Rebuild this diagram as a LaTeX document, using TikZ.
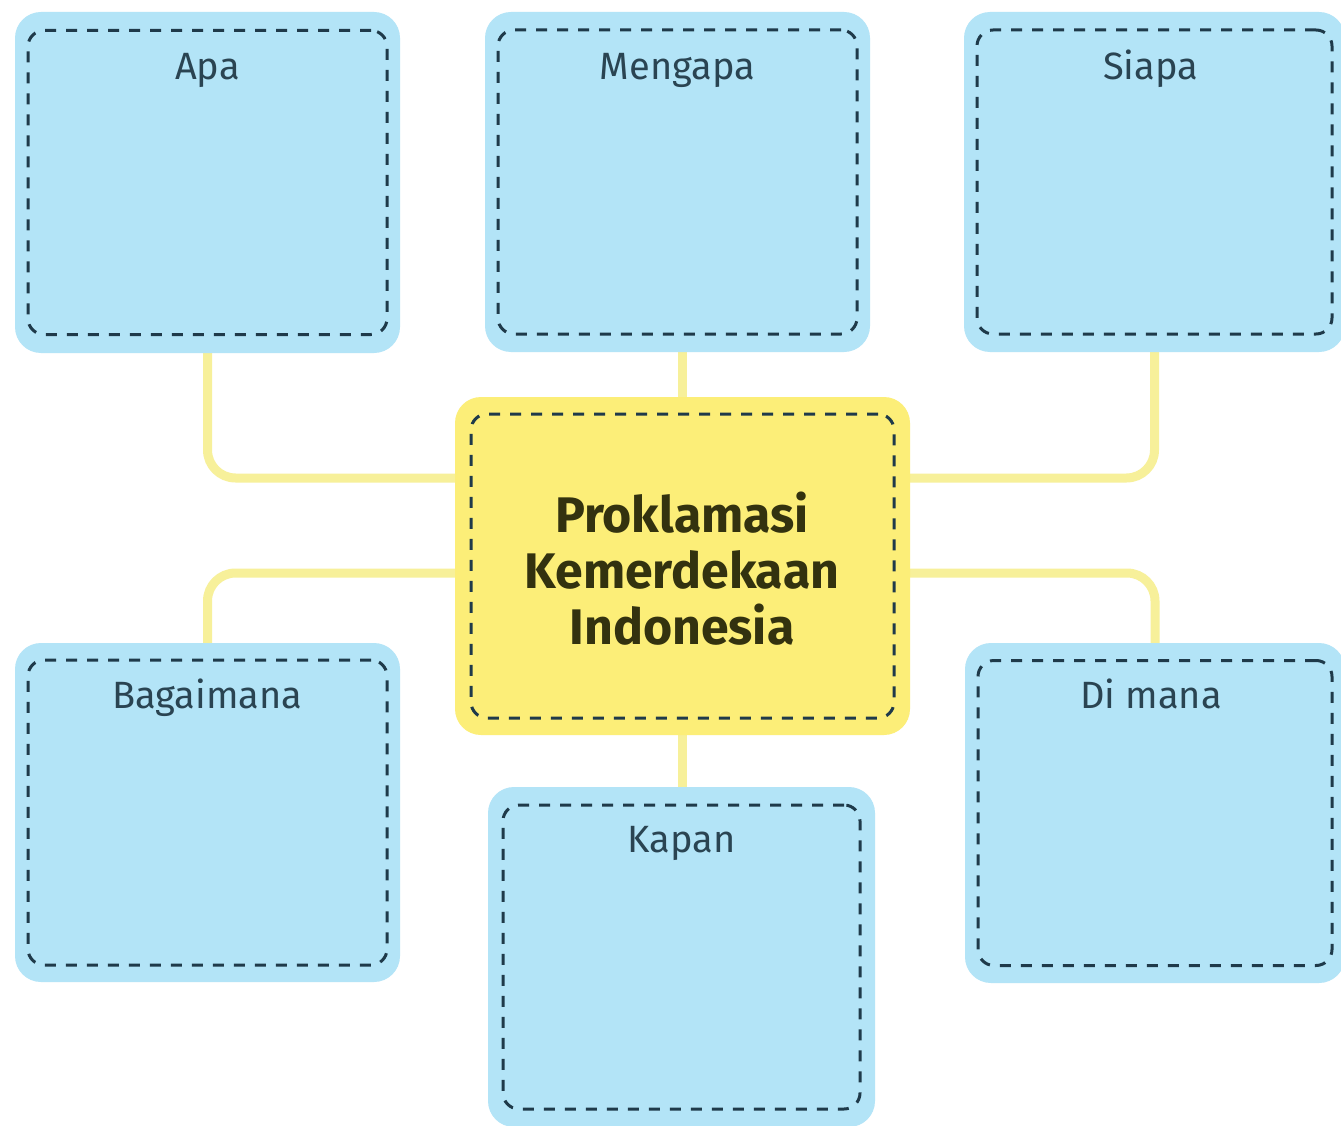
\documentclass[tikz,border=0pt]{standalone}
\usepackage{fontspec}
\setmainfont{Fira Sans}
\usetikzlibrary{calc}
\pgfdeclarelayer{bg}
\pgfdeclarelayer{links}
\pgfsetlayers{bg,links,main}
\definecolor{boxblue}{HTML}{B3E4F7}
\definecolor{boxyellow}{HTML}{FCEE78}
\definecolor{connyellow}{HTML}{F7F09A}
\definecolor{dashcol}{HTML}{1F3A4A}
\definecolor{labelcol}{HTML}{2A4452}
\definecolor{titlecol}{HTML}{33320F}
\begin{document}
\begin{tikzpicture}[x=1pt,y=-1pt,
  outerbox/.style={rectangle, rounded corners=26pt, inner sep=0pt, draw=none},
  innerdash/.style={rectangle, rounded corners=16pt, inner sep=0pt, draw=dashcol, line width=3pt, dash pattern=on 11pt off 10pt},
  lbl/.style={font=\fontsize{38}{44}\selectfont, text=labelcol, anchor=base},
  conn/.style={draw=connyellow, line width=9pt, rounded corners=28pt}
]
\useasboundingbox (0,0) rectangle (1341,1126);
\begin{pgfonlayer}{bg}
  \fill[white] (0,0) rectangle (1341,1126);
\end{pgfonlayer}

% centre
\node[outerbox, fill=boxyellow, minimum width=455pt, minimum height=338pt] (center) at (682.5,566) {};
\node[innerdash, minimum width=423pt, minimum height=304pt] (centerin) at (center.center) {};
\node[font=\fontsize{50}{56}\selectfont\bfseries, text=titlecol, align=center] (title) at (682,569) {Proklamasi\\Kemerdekaan\\Indonesia};

% Apa
\node[outerbox, fill=boxblue, minimum width=385pt, minimum height=341pt] (apa) at (207.5,182.5) {};
\node[innerdash, minimum width=359pt, minimum height=304pt] (apain) at (apa.center) {};
\node[lbl] (apalbl) at ($(apa.north)+(0,68)$) {Apa};

% Mengapa
\node[outerbox, fill=boxblue, minimum width=385pt, minimum height=340pt] (mengapa) at (677.5,182) {};
\node[innerdash, minimum width=359pt, minimum height=304pt] (mengapain) at (mengapa.center) {};
\node[lbl] (mengapalbl) at ($(mengapa.north)+(0,68)$) {Mengapa};

% Siapa
\node[outerbox, fill=boxblue, minimum width=381pt, minimum height=340pt] (siapa) at (1154.5,182) {};
\node[innerdash, minimum width=355pt, minimum height=304pt] (siapain) at (siapa.center) {};
\node[lbl] (siapalbl) at ($(siapa.north)+(-4,68)$) {Siapa};

% Bagaimana
\node[outerbox, fill=boxblue, minimum width=385pt, minimum height=339pt] (bagaimana) at (207.5,812.5) {};
\node[innerdash, minimum width=359pt, minimum height=305pt] (bagaimanain) at (bagaimana.center) {};
\node[lbl] (bagaimanalbl) at ($(bagaimana.north)+(0,66)$) {Bagaimana};

% Di mana
\node[outerbox, fill=boxblue, minimum width=380pt, minimum height=340pt] (dimana) at (1155,813) {};
\node[innerdash, minimum width=354pt, minimum height=305pt] (dimanain) at (dimana.center) {};
\node[lbl] (dimanalbl) at ($(dimana.north)+(-4,66)$) {Di mana};

% Kapan
\node[outerbox, fill=boxblue, minimum width=387pt, minimum height=340pt] (kapan) at (681.5,957) {};
\node[innerdash, minimum width=357pt, minimum height=304pt] (kapanin) at (kapan.center) {};
\node[lbl] (kapanlbl) at ($(kapan.north)+(0,66)$) {Kapan};

% connectors
\begin{pgfonlayer}{links}
  \draw[conn] (apa.south) |- ($(center.west)+(0,-88)$);
  \draw[conn] (siapa.south) |- ($(center.east)+(0,-88)$);
  \draw[conn] (bagaimana.north) |- ($(center.west)+(0,7)$);
  \draw[conn] (dimana.north) |- ($(center.east)+(0,7)$);
  \draw[conn] (center.north |- mengapa.south) -- (center.north);
  \draw[conn] (center.south) -- (center.south |- kapan.north);
\end{pgfonlayer}
\end{tikzpicture}
\end{document}
